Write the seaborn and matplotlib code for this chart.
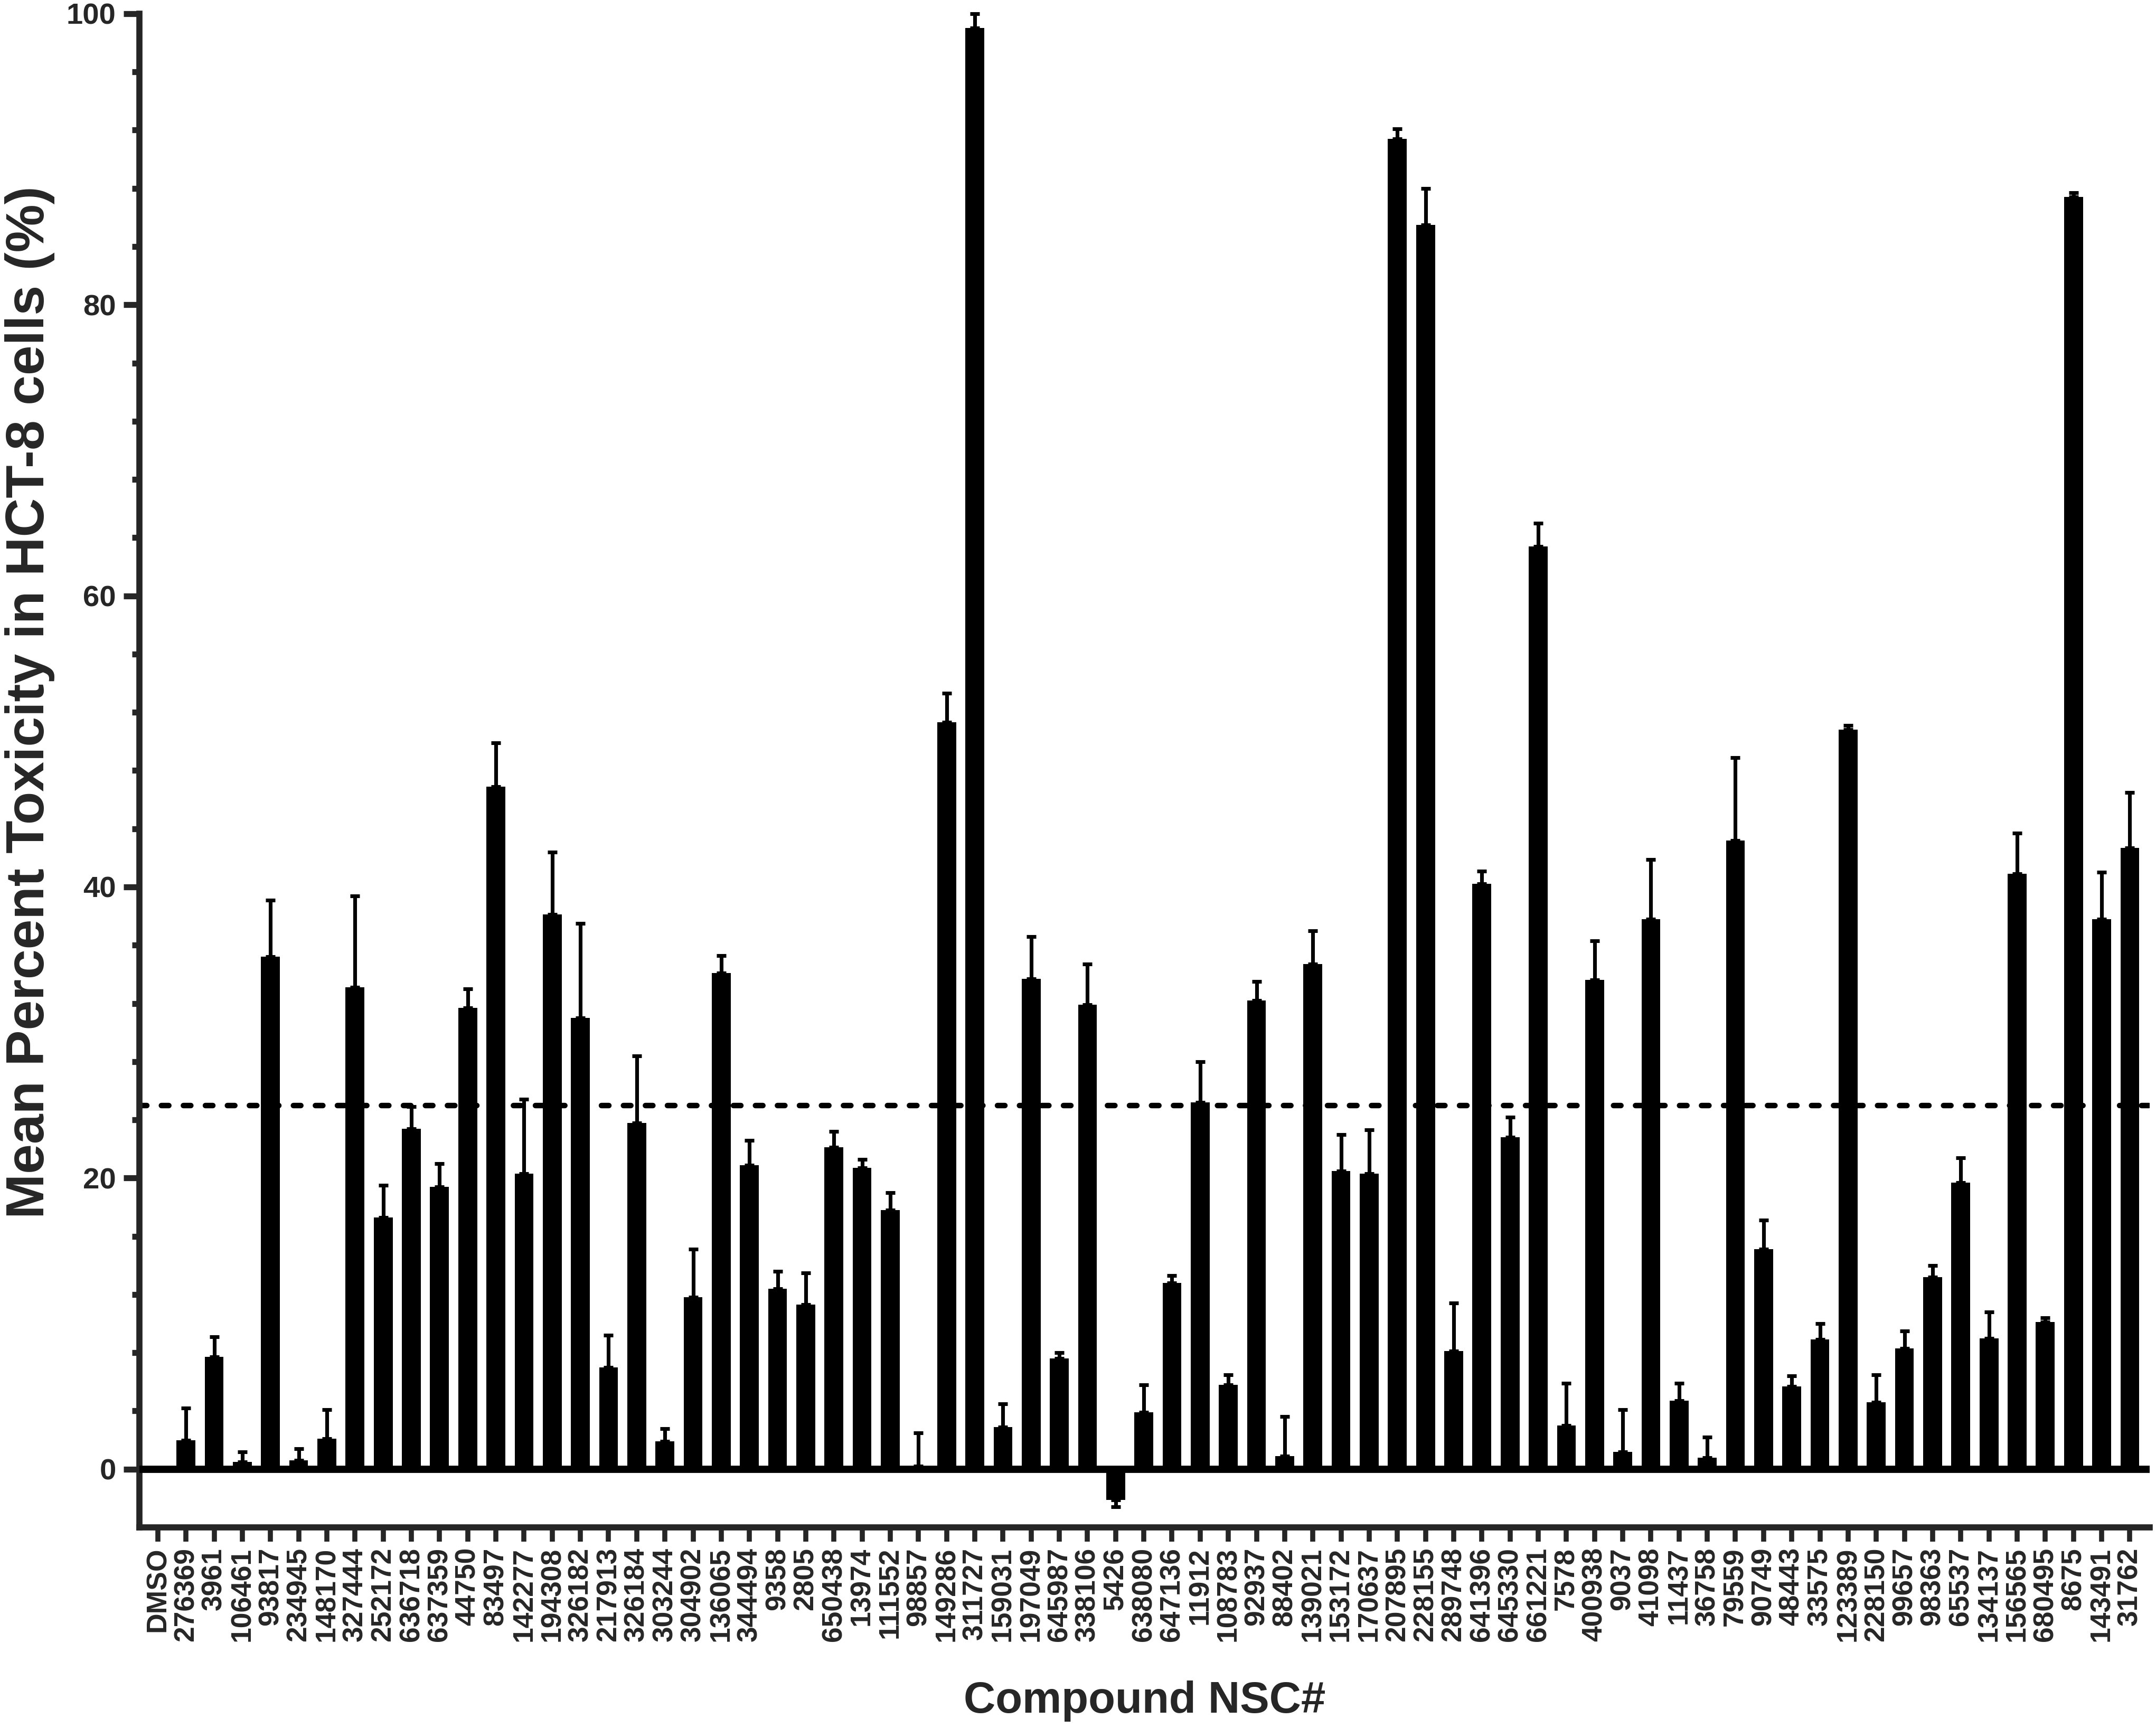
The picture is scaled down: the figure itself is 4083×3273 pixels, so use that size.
# Toxicidad media en celulas HCT-8 por compuesto (NSC#)
import matplotlib
matplotlib.use("Agg")
import matplotlib.pyplot as plt
import seaborn as sns
import numpy as np
import pandas as pd
from matplotlib.ticker import FixedLocator

# Datos
compuestos = ["DMSO", "276369", "3961", "106461", "93817", "234945", "148170", "327444",
              "252172", "636718", "637359", "44750", "83497", "142277", "194308", "326182",
              "217913", "326184", "303244", "304902", "136065", "344494", "9358", "2805",
              "650438", "13974", "111552", "98857", "149286", "311727", "159031", "197049",
              "645987", "338106", "5426", "638080", "647136", "11912", "108783", "92937",
              "88402", "139021", "153172", "170637", "207895", "228155", "289748", "641396",
              "645330", "661221", "7578", "400938", "9037", "41098", "11437", "36758",
              "79559", "90749", "48443", "33575", "123389", "228150", "99657", "98363",
              "65537", "134137", "156565", "680495", "8675", "143491", "31762"]

toxicidad = [0, 2.0, 7.7, 0.5, 35.2, 0.6, 2.1, 33.1, 17.3, 23.4, 19.4, 31.7, 46.9, 20.3,
             38.1, 31.0, 7.0, 23.8, 1.9, 11.8, 34.1, 20.9, 12.4, 11.3, 22.1, 20.7, 17.8,
             0.2, 51.3, 99.0, 2.9, 33.7, 7.6, 31.9, -2.1, 3.9, 12.8, 25.2, 5.8, 32.2, 0.9,
             34.7, 20.5, 20.3, 91.4, 85.5, 8.1, 40.2, 22.8, 63.4, 3.0, 33.6, 1.2, 37.8,
             4.7, 0.8, 43.2, 15.1, 5.7, 8.9, 50.8, 4.6, 8.3, 13.2, 19.7, 9.0, 40.9, 10.1,
             87.4, 37.8, 42.7]

desvio = [0, 2.2, 1.4, 0.7, 3.9, 0.8, 2.0, 6.3, 2.2, 1.5, 1.6, 1.3, 3.0, 5.1, 4.3, 6.5,
          2.2, 4.6, 0.9, 3.3, 1.2, 1.7, 1.2, 2.2, 1.1, 0.6, 1.2, 2.3, 2.0, 1.0, 1.6, 2.9,
          0.4, 2.8, 0.5, 1.9, 0.5, 2.8, 0.7, 1.3, 2.7, 2.3, 2.5, 3.0, 0.7, 2.5, 3.3, 0.9,
          1.4, 1.6, 2.9, 2.7, 2.9, 4.1, 1.2, 1.4, 5.7, 2.0, 0.7, 1.1, 0.3, 1.9, 1.2, 0.8,
          1.7, 1.8, 2.8, 0.3, 0.3, 3.2, 3.8]

umbral = 25
yticks = [0, 20, 40, 60, 80, 100]

sns.set_style("ticks")
plt.rcParams["font.family"] = ["Liberation Sans", "DejaVu Sans"]
plt.rcParams["font.weight"] = "bold"

df = pd.DataFrame({"nsc": compuestos, "tox": toxicidad, "sd": desvio})

fig = plt.figure(figsize=(4083 / 300, 3273 / 300), dpi=300)
ax = fig.add_axes([0.0647, 0.1161, 0.9323, 0.876])

sns.barplot(data=df, x="nsc", y="tox", order=compuestos, color="black", saturation=1,
            width=0.67, errorbar=None, linewidth=0, ax=ax)

# barras de error solo hacia afuera (estilo Prism)
pos = np.arange(len(df))
tox = df["tox"].to_numpy()
sd = df["sd"].to_numpy()
err_abajo = np.where(tox < 0, sd, 0)
err_arriba = np.where(tox >= 0, sd, 0)
ax.errorbar(pos, tox, yerr=[err_abajo, err_arriba], fmt="none", ecolor="black",
            elinewidth=1.7, capsize=2.2, capthick=1.7, clip_on=False, zorder=3)

ax.axhline(0, color="black", lw=3.3, zorder=4)
ax.axhline(umbral, color="black", lw=2.5, linestyle=(0, (1.35, 2.65)),
           dash_capstyle="round", zorder=1)

ax.set_xlim(-0.65, 70.7)
ax.set_ylim(-4, 100)
ax.set_yticks(yticks)
ax.yaxis.set_minor_locator(FixedLocator([v for v in range(4, 100, 4) if v % 20]))

sns.despine(ax=ax)
for lado in ["left", "bottom"]:
    ax.spines[lado].set_linewidth(2.8)

ax.tick_params(axis="y", which="major", length=7.2, width=2.7, labelsize=13.5, pad=3.5)
ax.tick_params(axis="y", which="minor", length=3.4, width=2.7)
ax.tick_params(axis="x", length=6.4, width=2.3, labelsize=12.8, pad=2.7, labelrotation=90)

ax.set_xlabel("Compound NSC#", fontsize=20, fontweight="bold")
ax.set_ylabel("Mean Percent Toxicity in HCT-8 cells (%)", fontsize=24.5, fontweight="bold")
ax.xaxis.set_label_coords(0.5, -0.101)
ax.yaxis.set_label_coords(-0.042, 0.545)

fig.savefig("out.png", dpi=300)
